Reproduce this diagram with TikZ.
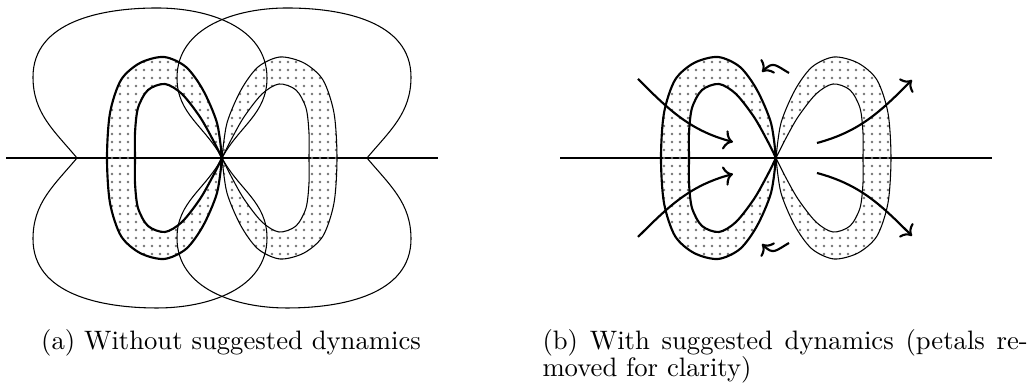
\documentclass[tikz,border=0pt]{standalone}
\usepackage{tikz}
\usetikzlibrary{arrows.meta,patterns}

\begin{document}
\begin{tikzpicture}[x=0.375pt,y=0.375pt,
  >={Computer Modern Rightarrow[length=3.4pt,width=7.4pt]},
  dotfill/.style={pattern=dots,pattern color=black!55,even odd rule},
  flow/.style={line width=0.8pt,->}]
\useasboundingbox (0,0) rectangle (1027,390);

% axes and the two pairs of loops, in both panels
\foreach \cx in {222,776}{
\begin{scope}[shift={(\cx,232)}]
  \draw (-216,0) -- (216,0);
  \foreach \sx/\lw in {1/0.8pt,-1/0.4pt}{
  \begin{scope}[xscale=\sx]
    \path[draw,dotfill,line width=\lw]
      plot[smooth] coordinates {(0,0) (-5,35) (-19,68) (-36,91) (-58,101) (-82,95)
        (-101,78) (-112,45) (-115,0) (-112,-45) (-101,-78) (-82,-95) (-58,-101)
        (-36,-91) (-19,-68) (-5,-35) (0,0)}
      plot[smooth] coordinates {(0,0) (-9,18) (-22,41) (-40,64) (-57,74) (-74,68)
        (-84,50) (-87,25) (-87,0) (-87,-25) (-84,-50) (-74,-68) (-57,-74) (-40,-64)
        (-22,-41) (-9,-18) (0,0)};
  \end{scope}}
\end{scope}}

% (a) the petals
\begin{scope}[shift={(222,232)}]
  \foreach \sx in {1,-1}
    \draw[xscale=\sx] (0,0) to[out=62,in=-90] (45,80) to[out=90,in=0] (-65,150)
      to[out=180,in=90] (-189,81) to[out=-90,in=130] (-145,0)
      to[out=-130,in=90] (-189,-81) to[out=-90,in=180] (-65,-150)
      to[out=0,in=-90] (45,-80) to[out=90,in=-62] (0,0);
\end{scope}

% (b) suggested dynamics
\begin{scope}[shift={(776,232)}]
  \foreach \sy in {1,-1}{
    \draw[flow,yscale=\sy] (-138,79) to[out=-45,in=165] (-43,16);
    \draw[flow,yscale=\sy] (41,15) to[out=15,in=-135] (136,78);
    \draw[flow,yscale=\sy] (13,85) to[out=150,in=45,looseness=1.5] (-14,86);
  }
\end{scope}

\node[anchor=base] (capa) at (231,40) {(a) Without suggested dynamics};
\node[anchor=north west,align=left,inner sep=0pt,
  font=\fontsize{10}{10.1}\selectfont] (capb) at (542,61)
  {\makebox[182pt][s]{(b) With suggested dynamics (petals re-}\\moved for clarity)};
\end{tikzpicture}
\end{document}
